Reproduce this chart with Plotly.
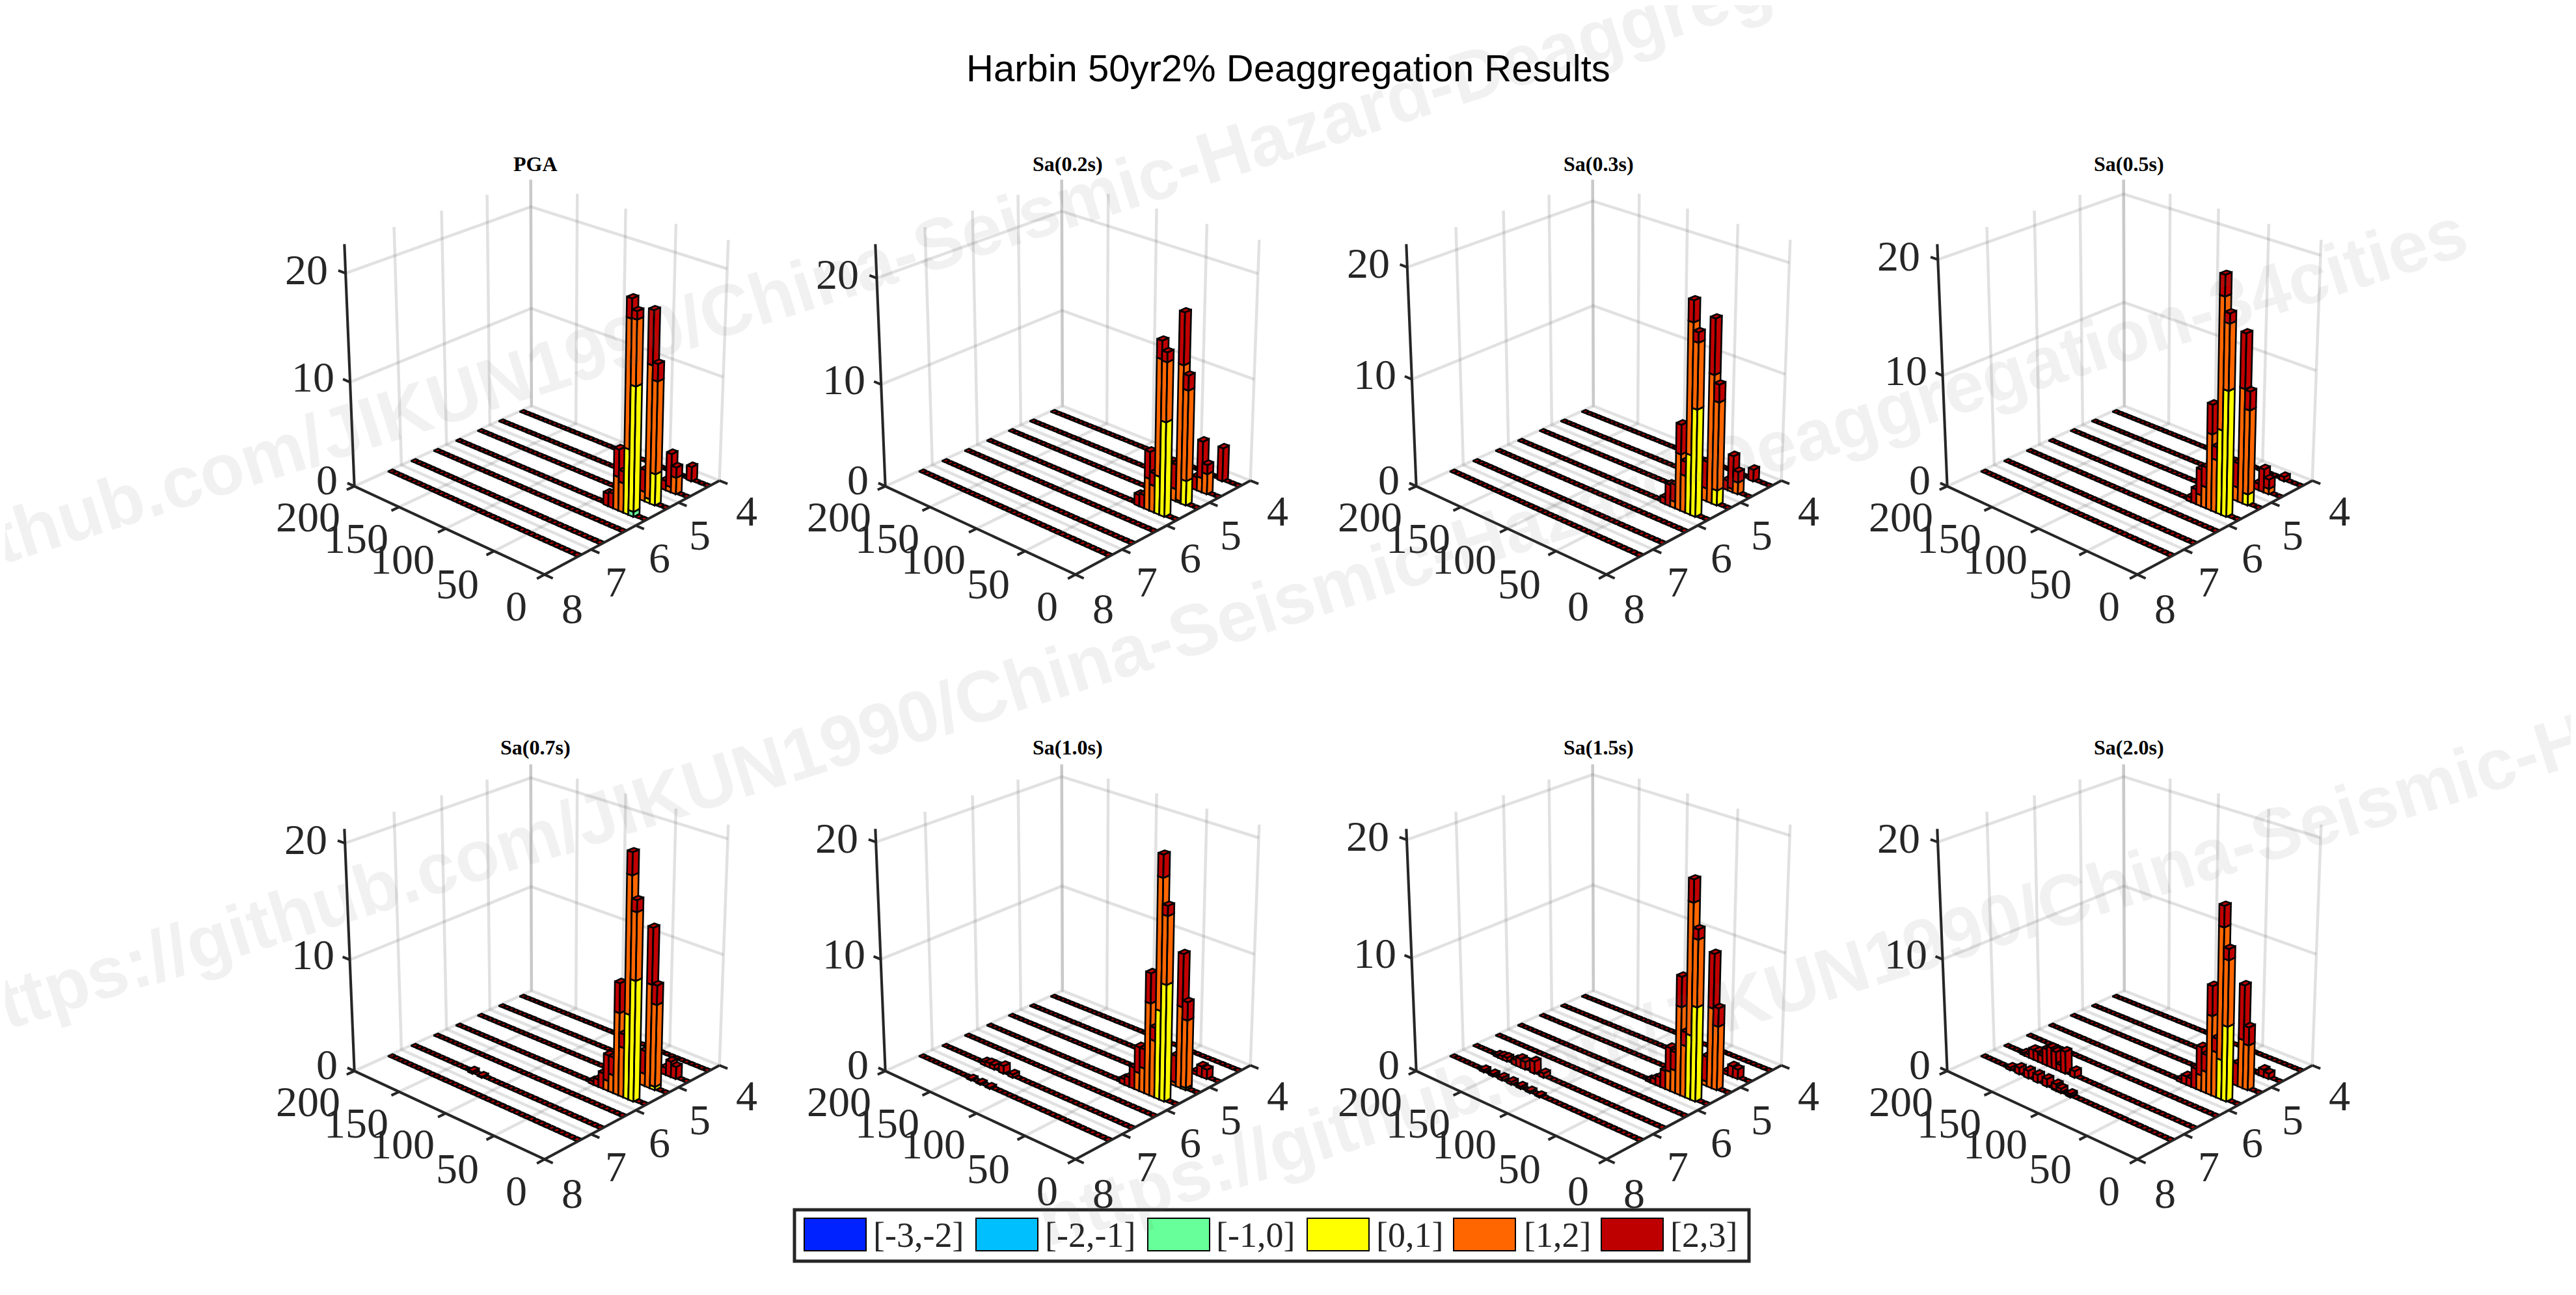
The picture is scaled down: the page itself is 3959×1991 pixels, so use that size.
# Harbin 50yr2% deaggregation, one 3D stacked bar chart per spectral period
# The gl3d scenes do not draw in the browser used here, so the bars are projected with
# a small pinhole camera and drawn as filled scatter polygons on plain cartesian axes
import numpy as np
import plotly.graph_objects as go

# bins of the deaggregation grid
MAG_BINS = [4.25, 4.75, 5.25, 5.75, 6.25, 6.75, 7.25]
DIST_BINS = [2.5, 7.5, 12.5, 17.5, 22.5, 27.5, 32.5, 37.5, 42.5, 47.5,
             52.5, 57.5, 62.5, 67.5, 72.5, 77.5, 82.5, 87.5, 92.5, 97.5,
             102.5, 107.5, 112.5, 117.5, 122.5, 127.5, 132.5, 137.5, 142.5, 147.5,
             152.5, 157.5, 162.5, 167.5, 172.5, 177.5, 182.5, 187.5, 192.5, 197.5]

TITLES = ["PGA", "Sa(0.2s)", "Sa(0.3s)", "Sa(0.5s)", "Sa(0.7s)", "Sa(1.0s)", "Sa(1.5s)", "Sa(2.0s)"]
Z_LIMITS = [22.6, 23.1, 22.0, 21.3, 21.2, 21.1, 20.9, 21.1]

# tick values and the label shift in pixels (right, down)
DIST_TICKS = [0, 50, 100, 150, 200]
DIST_SHIFT = [(-43, 48), (-56, 50), (-66, 47), (-66, 48), (-71, 47)]
MAG_TICKS = [8, 7, 6, 5, 4]
MAG_SHIFT = [(43, 52), (38, 50), (36, 50), (33, 50), (42, 47)]
Z_TICKS = [0, 10, 20]
Z_SHIFT = [(-42, -10), (-57, -8), (-60, -6)]

# (magnitude, distance, [-1,0], [0,1], [1,2], [2,3]) in percent
PGA_BARS = [
    (5.75, 12.5, 0.48, 11.7, 6.0, 0.75), (5.75, 17.5, 0, 6.2, 11.9, 1.8), (5.75, 22.5, 0, 0, 2.8, 1.1),
    (5.75, 27.5, 0, 0, 3.2, 2.6), (5.75, 32.5, 0, 0, 0, 1.4), (5.75, 37.5, 0, 0, 0, 1.2),
    (5.25, 12.5, 0, 3.0, 8.7, 1.6), (5.25, 17.5, 0, 0.4, 12.6, 5.0), (5.25, 22.5, 0, 0, 0.9, 2.1),
    (4.75, 12.5, 0, 0, 1.6, 1.0), (4.75, 17.5, 0, 0, 0.5, 3.2), (4.75, 22.5, 0, 0, 0, 0.9),
    (4.25, 17.5, 0, 0, 0, 1.4),
]
SA02_BARS = [
    (5.75, 12.5, 0, 9.1, 5.6, 0.9), (5.75, 17.5, 0, 3.7, 11.1, 1.7), (5.75, 22.5, 0, 0, 2.6, 1.2),
    (5.75, 27.5, 0, 0, 3.1, 2.6), (5.75, 32.5, 0, 0, 0, 1.3), (5.75, 37.5, 0, 0, 0, 1.1),
    (5.25, 12.5, 0, 2.4, 8.7, 1.4), (5.25, 17.5, 0, 0.2, 13.1, 4.9), (5.25, 22.5, 0, 0, 1.2, 2.4),
    (4.75, 12.5, 0, 0, 2.0, 0.9), (4.75, 17.5, 0, 0, 1.4, 3.6), (4.75, 22.5, 0, 0, 0, 1.3),
    (4.25, 17.5, 0, 0, 0, 3.3),
]
SA03_BARS = [
    (5.75, 12.5, 0, 9.8, 5.9, 0.9), (5.75, 17.5, 0, 5.5, 11.8, 1.9), (5.75, 22.5, 0, 0, 3.4, 1.3),
    (5.75, 27.5, 0, 0, 5.2, 2.7), (5.75, 32.5, 0, 0, 0.6, 1.6), (5.75, 37.5, 0, 0, 0, 2.0),
    (5.75, 42.5, 0, 0, 0, 0.6),
    (5.25, 12.5, 0, 1.4, 8.1, 1.6), (5.25, 17.5, 0, 0, 11.8, 5.0), (5.25, 22.5, 0, 0, 1.2, 2.5),
    (4.75, 12.5, 0, 0, 1.1, 1.0), (4.75, 17.5, 0, 0, 0.3, 3.1), (4.75, 22.5, 0, 0, 0, 0.9),
    (4.25, 17.5, 0, 0, 0, 1.1),
]
SA05_BARS = [
    (5.75, 12.5, 0, 11.1, 5.7, 0.85), (5.75, 17.5, 0, 7.5, 11.4, 1.8), (5.75, 22.5, 0, 0, 4.7, 1.15),
    (5.75, 27.5, 0, 0, 6.8, 2.6), (5.75, 32.5, 0, 0, 1.9, 1.8), (5.75, 37.5, 0, 0, 1.0, 2.3),
    (5.75, 42.5, 0, 0, 0, 1.35), (5.75, 47.5, 0, 0, 0, 0.4),
    (5.25, 12.5, 0, 1.0, 7.5, 1.65), (5.25, 17.5, 0, 0, 10.2, 4.8), (5.25, 22.5, 0, 0, 1.25, 2.2),
    (4.75, 12.5, 0, 0, 0.5, 0.85), (4.75, 17.5, 0, 0, 0, 2.1), (4.75, 22.5, 0, 0, 0, 0.6),
    (4.25, 17.5, 0, 0, 0, 0.4),
]
SA07_BARS = [
    (5.75, 12.5, 0, 10.6, 5.8, 1.0), (5.75, 17.5, 0, 7.5, 11.8, 1.9), (5.75, 22.5, 0, 0, 4.4, 1.2),
    (5.75, 27.5, 0, 0, 7.3, 2.6), (5.75, 32.5, 0, 0, 1.6, 1.6), (5.75, 37.5, 0, 0, 0.9, 2.3),
    (5.75, 42.5, 0, 0, 0, 1.4), (5.75, 47.5, 0, 0, 0, 0.65), (5.75, 52.5, 0, 0, 0, 0.3),
    (5.25, 12.5, 0, 0.3, 7.3, 1.7), (5.25, 17.5, 0, 0, 9.2, 4.9), (5.25, 22.5, 0, 0, 1.1, 2.05),
    (4.75, 12.5, 0, 0, 0, 1.1), (4.75, 17.5, 0, 0, 0, 1.4), (4.75, 22.5, 0, 0, 0, 0.65),
    (6.75, 132.5, 0, 0, 0, 0.2), (6.75, 122.5, 0, 0, 0, 0.1),
]
SA10_BARS = [
    (5.75, 12.5, 0, 10.2, 5.8, 0.85), (5.75, 17.5, 0, 7.8, 11.2, 1.9), (5.75, 22.5, 0, 0, 5.0, 1.15),
    (5.75, 27.5, 0, 0, 8.1, 2.6), (5.75, 32.5, 0, 0, 2.2, 1.7), (5.75, 37.5, 0, 0, 1.6, 2.3),
    (5.75, 42.5, 0, 0, 0, 1.9), (5.75, 47.5, 0, 0, 0, 0.85), (5.75, 52.5, 0, 0, 0, 0.5),
    (5.25, 12.5, 0, 0.2, 6.0, 1.6), (5.25, 17.5, 0, 0, 7.2, 4.6), (5.25, 22.5, 0, 0, 0.3, 2.4),
    (4.75, 12.5, 0, 0, 0, 0.85), (4.75, 17.5, 0, 0, 0, 0.95), (4.75, 22.5, 0, 0, 0, 0.3),
    (6.75, 122.5, 0, 0, 0, 0.3), (6.75, 132.5, 0, 0, 0, 0.7), (6.75, 142.5, 0, 0, 0, 0.4),
    (6.75, 147.5, 0, 0, 0, 0.4), (6.75, 152.5, 0, 0, 0, 0.3),
    (7.25, 122.5, 0, 0, 0, 0.1), (7.25, 132.5, 0, 0, 0, 0.1), (7.25, 142.5, 0, 0, 0, 0.1),
]
SA15_BARS = [
    (5.75, 12.5, 0, 8.2, 5.7, 0.85), (5.75, 17.5, 0, 5.6, 11.2, 1.9), (5.75, 22.5, 0, 0, 4.5, 1.2),
    (5.75, 27.5, 0, 0, 7.7, 2.6), (5.75, 32.5, 0, 0, 2.0, 1.6), (5.75, 37.5, 0, 0, 1.7, 2.1),
    (5.75, 42.5, 0, 0, 0, 1.6), (5.75, 47.5, 0, 0, 0, 0.85), (5.75, 52.5, 0, 0, 0, 0.5),
    (5.75, 57.5, 0, 0, 0, 0.2),
    (5.25, 12.5, 0, 0, 5.6, 1.6), (5.25, 17.5, 0, 0, 7.0, 4.7), (5.25, 22.5, 0, 0, 0.4, 2.2),
    (4.75, 12.5, 0, 0, 0, 0.85), (4.75, 17.5, 0, 0, 0, 0.95), (4.75, 22.5, 0, 0, 0, 0.3),
    (6.75, 122.5, 0, 0, 0, 0.4), (6.75, 132.5, 0, 0, 0, 1.1), (6.75, 142.5, 0, 0, 0, 0.7),
    (6.75, 147.5, 0, 0, 0, 0.8), (6.75, 152.5, 0, 0, 0, 0.5), (6.75, 162.5, 0, 0, 0, 0.35),
    (6.75, 167.5, 0, 0, 0, 0.3), (6.75, 172.5, 0, 0, 0, 0.2),
    (7.25, 102.5, 0, 0, 0, 0.1), (7.25, 112.5, 0, 0, 0, 0.15), (7.25, 122.5, 0, 0, 0, 0.2),
    (7.25, 132.5, 0, 0, 0, 0.25), (7.25, 142.5, 0, 0, 0, 0.25), (7.25, 152.5, 0, 0, 0, 0.2),
    (7.25, 162.5, 0, 0, 0, 0.2),
]
SA20_BARS = [
    (5.75, 12.5, 0, 6.6, 5.7, 0.95), (5.75, 17.5, 0, 3.5, 11.4, 1.8), (5.75, 22.5, 0, 0, 4.0, 1.2),
    (5.75, 27.5, 0, 0, 7.0, 2.6), (5.75, 32.5, 0, 0, 1.9, 1.5), (5.75, 37.5, 0, 0, 1.4, 2.5),
    (5.75, 42.5, 0, 0, 0, 1.8), (5.75, 47.5, 0, 0, 0, 0.75), (5.75, 52.5, 0, 0, 0, 0.75),
    (5.75, 57.5, 0, 0, 0, 0.3),
    (5.25, 12.5, 0, 0, 4.0, 1.6), (5.25, 17.5, 0, 0, 4.3, 4.8), (5.25, 22.5, 0, 0, 0, 2.0),
    (4.75, 12.5, 0, 0, 0, 0.5), (4.75, 17.5, 0, 0, 0, 0.65), (4.75, 22.5, 0, 0, 0, 0.1),
    (6.75, 122.5, 0, 0, 0, 0.6), (6.75, 132.5, 0, 0, 0, 2.0), (6.75, 137.5, 0, 0, 0, 0.6),
    (6.75, 142.5, 0, 0, 0, 1.6), (6.75, 147.5, 0, 0, 0, 1.8), (6.75, 152.5, 0, 0, 0, 1.5),
    (6.75, 157.5, 0, 0, 0, 0.7), (6.75, 162.5, 0, 0, 0, 0.9), (6.75, 167.5, 0, 0, 0, 0.9),
    (6.75, 172.5, 0, 0, 0, 0.3), (6.75, 177.5, 0, 0, 0, 0.2),
    (7.25, 102.5, 0, 0, 0.1, 0.2), (7.25, 112.5, 0, 0, 0.1, 0.3), (7.25, 117.5, 0, 0, 0.1, 0.5),
    (7.25, 127.5, 0, 0, 0, 0.7), (7.25, 137.5, 0, 0, 0, 0.7), (7.25, 147.5, 0, 0, 0, 0.7),
    (7.25, 157.5, 0, 0, 0, 0.6), (7.25, 167.5, 0, 0, 0, 0.25),
]
ALL_BARS = [PGA_BARS, SA02_BARS, SA03_BARS, SA05_BARS, SA07_BARS, SA10_BARS, SA15_BARS, SA20_BARS]

STACK_COLORS = ["#66FF99", "#FFFF00", "#FF6600", "#C00000"]
LEGEND_LABELS = ["[-3,-2]", "[-2,-1]", "[-1,0]", "[0,1]", "[1,2]", "[2,3]"]
LEGEND_COLORS = ["#0022FF", "#00BFFF", "#66FF99", "#FFFF00", "#FF6600", "#BF0000"]

WATERMARK = "https://github.com/JIKUN1990/China-Seismic-Hazard-Deaggregation-34cities"

W, H = 3959, 1991
PAGE_MARGIN = 8  # the default body margin of the page
FLAT_D, FLAT_M = 4.0, 0.1      # footprint of the empty bins
BAR_D, BAR_M = 5.0, 0.14       # footprint of the standing bars
COL_STEP, ROW_STEP = 816, 899
TITLE_X = [823, 1641, 2457, 3272]
TITLE_Y = [252, 1149]

# camera fit: box corners of the first panel (unit box) and where they sit on the page
BOX_POINTS = [(0, 0, 0), (1, 0, 0), (0, 1, 0), (1, 1, 0), (1, 0, 1), (1, 1, 1), (0, 1, 1),
              (1, 0, 0.4425), (1, 1, 0.4425), (0, 1, 0.4425), (1, 0, 0.885), (1, 1, 0.885), (0, 1, 0.885)]
PAGE_POINTS = [(836, 884), (545, 747), (1107, 737), (816, 625), (529, 373), (816, 275), (1119, 367),
               (538, 588), (816, 474), (1112, 580), (532, 422), (816, 319), (1117, 416)]


def fit_camera():
    rows = []
    for (u, v, w), (px, py) in zip(BOX_POINTS, PAGE_POINTS):
        rows.append([u, v, w, 1, 0, 0, 0, 0, -px * u, -px * v, -px * w, -px])
        rows.append([0, 0, 0, 0, u, v, w, 1, -py * u, -py * v, -py * w, -py])
    return np.linalg.svd(np.array(rows, dtype=float))[2][-1].reshape(3, 4)


CAMERA = fit_camera()


def project(d, m, z, zmax, p):
    # distance 0..200, magnitude 8..4 and 0..zmax onto the page
    x, y, s = CAMERA @ np.array([d / 200, (8 - m) / 4, z / zmax, 1])
    return x / s + (p % 4) * COL_STEP, y / s + (p // 4) * ROW_STEP


def polyline(points, zmax, p, xs, ys):
    for d, m, z in points:
        x, y = project(d, m, z, zmax, p)
        xs.append(x)
        ys.append(y)
    xs.append(None)
    ys.append(None)


def solid(xs, ys, color, width=2.6):
    return go.Scatter(x=xs, y=ys, mode="lines", fill="toself", fillcolor=color, cliponaxis=False,
                      line=dict(color="black", width=width), hoverinfo="skip", showlegend=False)


def strokes(xs, ys, color, width):
    return go.Scatter(x=xs, y=ys, mode="lines", line=dict(color=color, width=width), cliponaxis=False,
                      hoverinfo="skip", showlegend=False)


fig = go.Figure()
annotations = []
TICK_FONT = dict(family="Liberation Serif", size=66, color="#262626")

for p, bars in enumerate(ALL_BARS):
    zmax = Z_LIMITS[p]
    name = TITLES[p]

    # grid on the two back walls and the floor
    gx, gy = [], []
    for d in DIST_TICKS:
        polyline([(d, 8, 0), (d, 4, 0), (d, 4, zmax)], zmax, p, gx, gy)
    for m in MAG_TICKS:
        polyline([(0, m, 0), (200, m, 0), (200, m, zmax)], zmax, p, gx, gy)
    for z in Z_TICKS[1:]:
        polyline([(200, 8, z), (200, 4, z), (0, 4, z)], zmax, p, gx, gy)
    fig.add_trace(strokes(gx, gy, "rgba(120,120,120,0.22)", 4.5))

    # flat footprints of every bin, the empty ones too
    fx, fy = [], []
    for m in MAG_BINS:
        for d in DIST_BINS:
            d0, d1, m0, m1 = d - FLAT_D / 2, d + FLAT_D / 2, m - FLAT_M / 2, m + FLAT_M / 2
            polyline([(d0, m0, 0), (d1, m0, 0), (d1, m1, 0), (d0, m1, 0), (d0, m0, 0)], zmax, p, fx, fy)
    fig.add_trace(solid(fx, fy, STACK_COLORS[3]))

    # back to front: low magnitude first, then far distance first, each stack from the bottom up
    for m, d, *stack in sorted(bars, key=lambda b: (b[0], -b[1])):
        d0, d1, m0, m1 = d - BAR_D / 2, d + BAR_D / 2, m - BAR_M / 2, m + BAR_M / 2
        base = 0
        for s, v in enumerate(stack):
            if v <= 0:
                continue
            top = base + v
            bx, by = [], []
            polyline([(d0, m1, base), (d1, m1, base), (d1, m1, top), (d0, m1, top), (d0, m1, base)], zmax, p, bx, by)
            polyline([(d0, m0, base), (d0, m1, base), (d0, m1, top), (d0, m0, top), (d0, m0, base)], zmax, p, bx, by)
            polyline([(d0, m0, top), (d1, m0, top), (d1, m1, top), (d0, m1, top), (d0, m0, top)], zmax, p, bx, by)
            fig.add_trace(solid(bx, by, STACK_COLORS[s]))
            base = top

    # axis lines and tick marks
    ax, ay = [], []
    polyline([(200, 8, zmax), (200, 8, 0), (0, 8, 0), (0, 4, 0)], zmax, p, ax, ay)
    for d in DIST_TICKS:
        polyline([(d, 8, 0), (d, 8.16, 0)], zmax, p, ax, ay)
    for m in MAG_TICKS:
        polyline([(0, m, 0), (-8, m, 0)], zmax, p, ax, ay)
    for z in Z_TICKS:
        polyline([(200, 8, z), (208, 8, z)], zmax, p, ax, ay)
    fig.add_trace(strokes(ax, ay, "#262626", 4))

    # axis numbers
    for v, (sx, sy) in zip(DIST_TICKS, DIST_SHIFT):
        tx, ty = project(v, 8, 0, zmax, p)
        annotations.append(dict(x=tx + sx, y=ty + sy, text=str(v), font=TICK_FONT))
    for v, (sx, sy) in zip(MAG_TICKS, MAG_SHIFT):
        tx, ty = project(0, v, 0, zmax, p)
        annotations.append(dict(x=tx + sx, y=ty + sy, text=str(v), font=TICK_FONT))
    for v, (sx, sy) in zip(Z_TICKS, Z_SHIFT):
        tx, ty = project(200, 8, v, zmax, p)
        annotations.append(dict(x=tx + sx, y=ty + sy, text=str(v), font=TICK_FONT))

    annotations.append(dict(text="<b>%s</b>" % name, x=TITLE_X[p % 4], y=TITLE_Y[p // 4],
                            font=dict(family="Liberation Serif", size=32, color="black")))

annotations.append(dict(text="Harbin 50yr2% Deaggregation Results", x=1980, y=104,
                        font=dict(family="Liberation Sans", size=58, color="black")))

# diagonal watermark, three times across the page
for cx, cy in [(1469, 366), (1861, 960), (3525, 1273)]:
    annotations.append(dict(text="<b>%s</b>" % WATERMARK, x=cx, y=cy, textangle=-17.5,
                            font=dict(family="Liberation Sans", size=111, color="rgba(110,100,100,0.09)")))

# legend box at the bottom
shapes = [dict(type="rect", x0=1221, x1=2688, y0=1860, y1=1939, line=dict(color="#262626", width=5), fillcolor="white")]
SWATCH_X = [1236, 1500, 1764, 2009, 2234, 2461]
LABEL_X = [1340, 1604, 1867, 2113, 2340, 2565]
for sx, lx, label, color in zip(SWATCH_X, LABEL_X, LEGEND_LABELS, LEGEND_COLORS):
    shapes.append(dict(type="rect", x0=sx, x1=sx + 95, y0=1873, y1=1923, fillcolor=color, line=dict(color="black", width=2)))
    annotations.append(dict(text=label, x=lx, y=1899, xanchor="left",
                            font=dict(family="Liberation Serif", size=54, color="#262626")))

for a in annotations:
    a.setdefault("xanchor", "center")
    a.update(xref="x", yref="y", yanchor="middle", showarrow=False)

fig.update_layout(width=W - PAGE_MARGIN, height=H - PAGE_MARGIN, margin=dict(l=0, r=0, t=0, b=0),
                  paper_bgcolor="white", plot_bgcolor="white",
                  showlegend=False, annotations=annotations, shapes=shapes,
                  xaxis=dict(visible=False, range=[PAGE_MARGIN, W], domain=[0, 1]),
                  yaxis=dict(visible=False, range=[H, PAGE_MARGIN], domain=[0, 1]))

fig.write_html("out.html")
